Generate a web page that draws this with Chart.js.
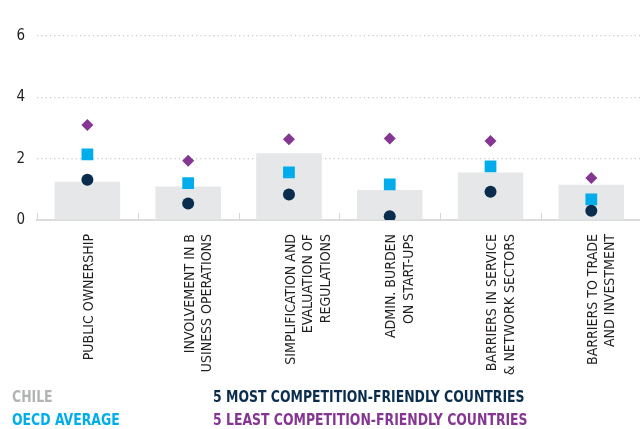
<!DOCTYPE html>
<html>
<head>
<meta charset="utf-8">
<script src="https://cdn.jsdelivr.net/npm/chart.js@4"></script>
<style>
  html, body { margin: 0; padding: 0; background: #fff; }
  body { width: 640px; height: 429px; overflow: hidden; position: relative; }
  #wrap { position: absolute; left: 0; top: 0; width: 650px; height: 429px; }
  .leg { position: absolute; font-family: "DejaVu Sans Condensed", sans-serif;
         font-weight: bold; font-size: 16px; line-height: 16px; white-space: nowrap;
         transform: scaleX(0.865); transform-origin: 0 0; }
</style>
</head>
<body>
<div id="wrap"><canvas id="myChart" width="650" height="429"></canvas></div>
<div class="leg" style="left:12px; top:389px; color:#b1b3b4;">CHILE</div>
<div class="leg" style="left:12px; top:412px; color:#00adeb;">OECD AVERAGE</div>
<div class="leg" style="left:213px; top:389px; color:#0a2d4e;">5 MOST COMPETITION-FRIENDLY COUNTRIES</div>
<div class="leg" style="left:213px; top:412px; color:#843692;">5 LEAST COMPETITION-FRIENDLY COUNTRIES</div>
<script>
var categories = [
  ['PUBLIC OWNERSHIP'],
  ['INVOLVEMENT IN B', 'USINESS OPERATIONS'],
  ['SIMPLIFICATION AND', 'EVALUATION OF', 'REGULATIONS'],
  ['ADMIN. BURDEN', 'ON START-UPS'],
  ['BARRIERS IN SERVICE', '& NETWORK SECTORS'],
  ['BARRIERS TO TRADE', 'AND INVESTMENT']
];
var chile = [1.25, 1.09, 2.18, 0.98, 1.55, 1.15];
var oecdAverage = [2.14, 1.2, 1.55, 1.16, 1.75, 0.67];
var mostFriendly = [1.31, 0.54, 0.83, 0.12, 0.92, 0.30];
var leastFriendly = [3.10, 1.93, 2.63, 2.66, 2.58, 1.37];
var yTicks = [0, 2, 4, 6];

var narrow = '"DejaVu Sans Condensed", sans-serif';

// small upward ticks between categories on the baseline
var separators = {
  id: 'separators',
  afterDraw: function(chart) {
    var x = chart.scales.x, area = chart.chartArea, c = chart.ctx;
    var half = (x.getPixelForTick(1) - x.getPixelForTick(0)) / 2;
    c.save();
    c.strokeStyle = '#d6d6d6';
    c.lineWidth = 1;
    for (var i = 0; i < categories.length; i++) {
      var px = Math.round(x.getPixelForTick(i) - half) + 0.5;
      c.beginPath();
      c.moveTo(px, area.bottom - 7);
      c.lineTo(px, area.bottom);
      c.stroke();
    }
    c.restore();
  }
};

var ctx = document.getElementById('myChart').getContext('2d');
var myChart = new Chart(ctx, {
  type: 'bar',
  data: {
    labels: categories,
    datasets: [{
        type: 'line',
        label: '5 most competition-friendly countries',
        data: mostFriendly,
        showLine: false,
        pointStyle: 'circle',
        pointRadius: 6,
        pointBorderWidth: 0,
        backgroundColor: '#0a2d4e',
        order: 1
      }, {
        type: 'line',
        label: 'OECD average',
        data: oecdAverage,
        showLine: false,
        pointStyle: 'rect',
        pointRadius: 8.3,
        pointBorderWidth: 0,
        backgroundColor: '#00adeb',
        order: 2
      }, {
        type: 'line',
        label: '5 least competition-friendly countries',
        data: leastFriendly,
        showLine: false,
        pointStyle: 'rectRot',
        pointRadius: 6,
        pointBorderWidth: 0,
        backgroundColor: '#843692',
        order: 3
      }, {
        label: 'Chile',
        data: chile,
        backgroundColor: '#e6e7e8',
        barPercentage: 0.65,
        categoryPercentage: 1,
        order: 10
      }
    ]
  },
  options: {
    responsive: false,
    animation: false,
    devicePixelRatio: 1,
    layout: { padding: { top: 36, left: 0, right: 1, bottom: 0 } },
    plugins: {
      legend: { display: false },
      tooltip: { enabled: false }
    },
    scales: {
      x: {
        offset: true,
        grid: { display: false },
        border: { display: true, color: '#dcdcdc', width: 2 },
        ticks: {
          autoSkip: false,
          minRotation: 90,
          maxRotation: 90,
          padding: 6,
          labelOffset: 2,
          color: '#231f20',
          font: { family: narrow, size: 14, lineHeight: 1.25 }
        },
        afterFit: function(scale) { scale.height = 209; }
      },
      y: {
        min: 0,
        max: 6,
        afterBuildTicks: function(scale) {
          scale.ticks = yTicks.map(function(v) { return { value: v }; });
        },
        grid: {
          drawTicks: false,
          color: function(c) { return c.tick && c.tick.value === 0 ? 'rgba(0,0,0,0)' : '#c8c8c8'; },
          lineWidth: 1.2
        },
        border: { display: false, dash: [1.2, 3.1] },
        ticks: {
          padding: 12,
          color: '#231f20',
          font: { family: narrow, size: 15 }
        },
        afterFit: function(scale) { scale.width = 37; }
      }
    }
  },
  plugins: [separators]
});
</script>
</body>
</html>
